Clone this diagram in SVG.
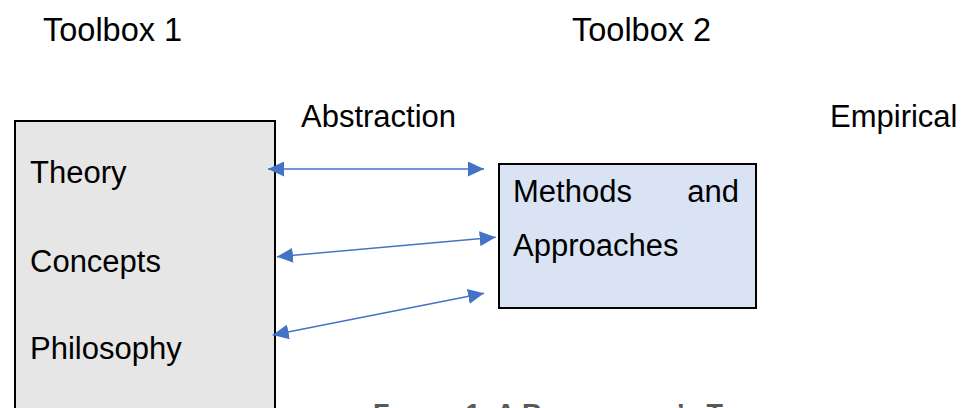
<svg xmlns="http://www.w3.org/2000/svg" width="968" height="408" viewBox="0 0 968 408">
<style>
.t{font-family:"Liberation Sans",Arial,sans-serif;font-size:31px;fill:#000}
.h{font-size:32.5px}
.cap{font-family:"Liberation Sans",Arial,sans-serif;font-weight:bold;font-size:27px;fill:#595959}
.sc{font-size:21.6px}
.box1{fill:#e7e6e6;stroke:#000;stroke-width:2}
.box2{fill:#dae3f3;stroke:#000;stroke-width:2}
.arr{stroke:#4472c4;stroke-width:1.5;fill:none;marker-start:url(#ah);marker-end:url(#ah)}
</style>
<defs>
<marker id="ah" markerUnits="userSpaceOnUse" markerWidth="16" markerHeight="15" refX="16" refY="7.5" orient="auto-start-reverse">
<path d="M0,0 L16,7.5 L0,15 z" fill="#4472c4"/>
</marker>
</defs>
<rect width="968" height="408" fill="#fff"/>
<g id="label-toolbox1"><text class="t h" x="43" y="41">Toolbox 1</text></g>
<g id="label-toolbox2"><text class="t h" x="572" y="41">Toolbox 2</text></g>
<g id="label-abstraction"><text class="t" x="301" y="127">Abstraction</text></g>
<g id="label-empirical"><text class="t" x="830" y="127">Empirical</text></g>
<g id="toolbox1">
<rect class="box1" x="15" y="121" width="260" height="300"/>
<text class="t" x="30" y="183">Theory</text>
<text class="t" x="30" y="272">Concepts</text>
<text class="t" x="30" y="359">Philosophy</text>
</g>
<g id="toolbox2">
<rect class="box2" x="499" y="164" width="257" height="144"/>
<text class="t" x="513" y="202">Methods</text>
<text class="t" x="739" y="202" text-anchor="end">and</text>
<text class="t" x="513" y="256">Approaches</text>
</g>
<g id="connectors">
<line class="arr" x1="268" y1="169" x2="484" y2="169"/>
<line class="arr" x1="277" y1="256.7" x2="495.7" y2="237.3"/>
<line class="arr" x1="272.7" y1="335" x2="484" y2="293.3"/>
</g>
<g id="caption">
<text class="cap" x="373" y="423">F<tspan class="sc">IGURE</tspan> 1: A R<tspan class="sc">ESEARCHER</tspan>’<tspan class="sc">S</tspan> T<tspan class="sc">OOLBOX</tspan></text>
</g>
</svg>
